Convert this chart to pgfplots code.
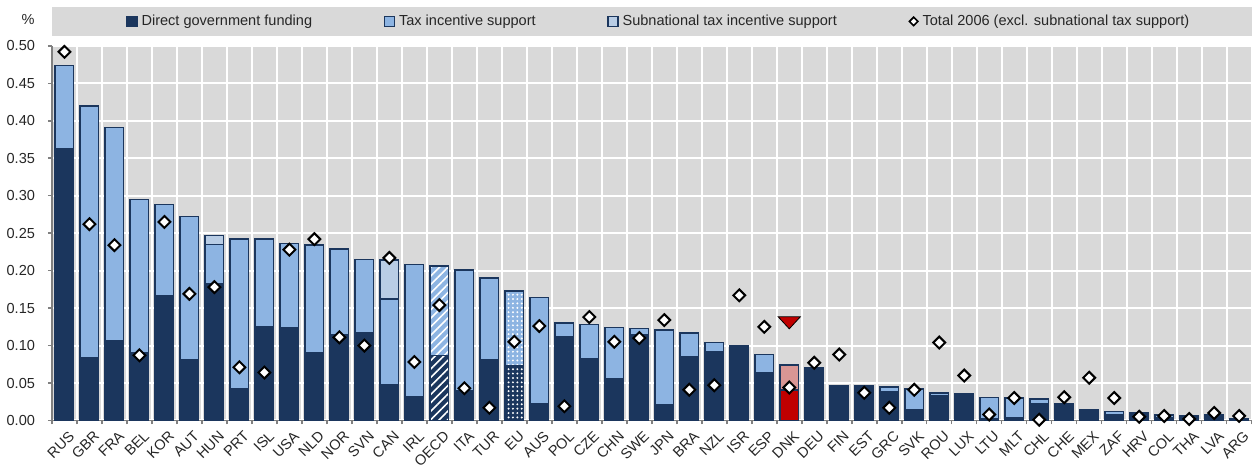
\documentclass[border=0pt]{standalone}
\usepackage{fontspec}
\setmainfont{Liberation Sans}
\usepackage{pgfplots}
\usepackage{pgfplotstable}
\pgfplotsset{compat=1.18}
\usetikzlibrary{patterns,patterns.meta}

\definecolor{navy}{HTML}{1B365D}
\definecolor{taxblue}{HTML}{8DB4E2}
\definecolor{subblue}{HTML}{B9CDE5}
\definecolor{panel}{HTML}{D9D9D9}
\definecolor{axgray}{HTML}{808080}
\definecolor{dkred}{HTML}{C00000}
\definecolor{ltred}{HTML}{D99694}

% x, direct funding, tax incentive, subnational tax, total 2006
\pgfplotstableread{
x  lab  dir    tax    sub    d06
0  RUS  0.362  0.112  0      0.492
1  GBR  0.084  0.336  0      0.262
2  FRA  0.106  0.285  0      0.234
3  BEL  0.090  0.205  0      0.087
4  KOR  0.166  0.122  0      0.265
5  AUT  0.081  0.191  0      0.169
6  HUN  0.182  0.053  0.012  0.178
7  PRT  0.043  0.199  0      0.071
8  ISL  0.125  0.117  0      0.064
9  USA  0.124  0.112  0      0.228
10 NLD  0.090  0.144  0      0.242
11 NOR  0.114  0.115  0      0.111
12 SVN  0.117  0.098  0      0.100
13 CAN  0.048  0.114  0.052  0.217
14 IRL  0.032  0.176  0      0.078
15 OECD nan    nan    nan    0.154
16 ITA  0.040  0.161  0      0.043
17 TUR  0.081  0.109  0      0.017
18 EU   nan    nan    nan    0.105
19 AUS  0.022  0.142  0      0.126
20 POL  0.112  0.018  0      0.019
21 CZE  0.082  0.046  0      0.138
22 CHN  0.056  0.068  0      0.105
23 SWE  0.114  0.009  0      0.110
24 JPN  0.021  0.100  0      0.134
25 BRA  0.085  0.032  0      0.041
26 NZL  0.092  0.012  0      0.047
27 ISR  0.100  0      0      0.167
28 ESP  0.064  0.024  0      0.125
29 DNK  nan    nan    nan    0.044
30 DEU  0.070  0      0      0.077
31 FIN  0.046  0      0      0.088
32 EST  0.046  0      0      0.037
33 GRC  0.038  0.007  0      0.017
34 SVK  0.014  0.028  0      0.041
35 ROU  0.033  0.004  0      0.104
36 LUX  0.036  0      0      0.060
37 LTU  0.002  0.029  0      0.008
38 MLT  0.003  0.027  0      0.030
39 CHL  0.022  0.007  0      0.001
40 CHE  0.022  0      0      0.031
41 MEX  0.014  0      0      0.057
42 ZAF  0.008  0.004  0      0.030
43 HRV  0.011  0      0      0.005
44 COL  0.004  0.003  0      0.006
45 THA  0.006  0      0      0.002
46 LVA  0.007  0      0      0.010
47 ARG  0.002  0      0      0.006
}\main

\begin{document}
\begin{tikzpicture}
\begin{axis}[
  width=602pt, height=188pt, scale only axis,
  clip=false,
  xmin=-0.5, xmax=47.5,
  ymin=0, ymax=0.5,
  axis background/.style={fill=panel},
  axis x line*=bottom, axis y line*=left,
  axis line style={axgray, line width=0.75pt},
  every tick/.style={axgray, line width=0.75pt},
  tick align=outside,
  major tick length=2pt,
  xtick={-0.5,0.5,...,47.5},
  xticklabel={\relax},
  extra x ticks={0,...,47},
  extra x tick labels={RUS,GBR,FRA,BEL,KOR,AUT,HUN,PRT,ISL,USA,NLD,NOR,SVN,CAN,IRL,OECD,ITA,TUR,EU,AUS,POL,CZE,CHN,SWE,JPN,BRA,NZL,ISR,ESP,DNK,DEU,FIN,EST,GRC,SVK,ROU,LUX,LTU,MLT,CHL,CHE,MEX,ZAF,HRV,COL,THA,LVA,ARG},
  extra x tick style={major tick length=0pt, grid=none},
  xticklabel style={rotate=45, anchor=north east, inner sep=1pt, xshift=-1pt, yshift=-3.5pt},
  ytick={0,0.05,0.1,0.15,0.2,0.25,0.3,0.35,0.4,0.45,0.5},
  yticklabel style={xshift=-3pt, /pgf/number format/.cd, fixed, fixed zerofill, precision=2, assume math mode=true},
  xmajorgrids, ymajorgrids,
  grid style={white, line width=1pt},
  tick label style={font=\fontsize{7.3}{8.5}\selectfont, text=black!85},
  legend columns=4,
  legend style={at={(0.5,1)}, anchor=center, yshift=12.25pt, xshift=4pt,
    draw=none, fill=none, font=\fontsize{7.3}{8.5}\selectfont, text=black!85,
    /tikz/every even column/.append style={column sep=34pt}},
]
\path ([yshift=23pt]rel axis cs:0,1) -- ([yshift=-22pt]rel axis cs:0,0);
\fill[panel] ([yshift=5pt]rel axis cs:0,1) rectangle ([yshift=19.5pt]rel axis cs:1,1);
\node[font=\fontsize{7.3}{8.5}\selectfont, text=black!85] at ([xshift=-12pt,yshift=13pt]rel axis cs:0,1) {\%};

\addlegendimage{legend image code/.code={\draw[fill=navy,draw=navy,line width=0.6pt] (0pt,-2.5pt) rectangle (5pt,2.5pt);}}
\addlegendentry{Direct government funding}
\addlegendimage{legend image code/.code={\draw[fill=taxblue,draw=navy,line width=0.6pt] (0pt,-2.5pt) rectangle (5pt,2.5pt);}}
\addlegendentry{Tax incentive support}
\addlegendimage{legend image code/.code={\draw[fill=subblue,draw=navy,line width=0.6pt] (0pt,-2.5pt) rectangle (5pt,2.5pt);}}
\addlegendentry{Subnational tax incentive support}
\addlegendimage{legend image code/.code={\draw[fill=white,draw=black,line width=0.8pt] (2.5pt,-2.1pt) -- (4.6pt,0pt) -- (2.5pt,2.1pt) -- (0.4pt,0pt) -- cycle;}}
\addlegendentry{Total 2006 (excl. subnational tax support)}

% layered bars, tallest first
\addplot[forget plot, ybar, bar width=0.74, bar shift=0pt, fill=subblue, draw=navy, line width=0.75pt]
  table[x=x, y expr=\thisrow{dir}+\thisrow{tax}+\thisrow{sub}]{\main};
\addplot[forget plot, ybar, bar width=0.74, bar shift=0pt, fill=taxblue, draw=navy, line width=0.75pt]
  table[x=x, y expr=\thisrow{dir}+\thisrow{tax}]{\main};
\addplot[forget plot, ybar, bar width=0.74, bar shift=0pt, fill=navy, draw=navy, line width=0.75pt]
  table[x=x, y=dir]{\main};

% OECD average
\addplot[forget plot, ybar, bar width=0.74, bar shift=0pt, fill=taxblue, draw=navy, line width=0.75pt,
  postaction={pattern={Lines[angle=45,distance=3pt,line width=0.8pt]}, pattern color=white}]
  coordinates {(15,0.206)};
\addplot[forget plot, ybar, bar width=0.74, bar shift=0pt, fill=navy, draw=navy, line width=0.75pt,
  postaction={pattern={Lines[angle=45,distance=3pt,line width=0.8pt]}, pattern color=white}]
  coordinates {(15,0.087)};
% EU
\addplot[forget plot, ybar, bar width=0.74, bar shift=0pt, fill=taxblue, draw=navy, line width=0.75pt,
  postaction={pattern={Dots[distance=2.2pt,radius=0.55pt]}, pattern color=white}]
  coordinates {(18,0.173)};
\addplot[forget plot, ybar, bar width=0.74, bar shift=0pt, fill=navy, draw=navy, line width=0.75pt,
  postaction={pattern={Dots[distance=2.2pt,radius=0.55pt]}, pattern color=white}]
  coordinates {(18,0.073)};
% DNK highlighted
\addplot[forget plot, ybar, bar width=0.74, bar shift=0pt, fill=ltred, draw=navy, line width=0.75pt]
  coordinates {(29,0.074)};
\addplot[forget plot, ybar, bar width=0.74, bar shift=0pt, fill=dkred, draw=navy, line width=0.75pt]
  coordinates {(29,0.041)};

% total 2006
\addplot[forget plot, only marks, mark=square*, mark size=2.1pt,
  mark options={rotate=45, fill=white, draw=black, line width=1pt}]
  table[x=x, y=d06]{\main};
% DNK marker
\addplot[forget plot, only marks, mark=triangle*, mark size=4pt,
  mark options={rotate=180, xscale=1.6, fill=dkred, draw=none}]
  coordinates {(29,0.133)};
\end{axis}
\end{tikzpicture}
\end{document}
